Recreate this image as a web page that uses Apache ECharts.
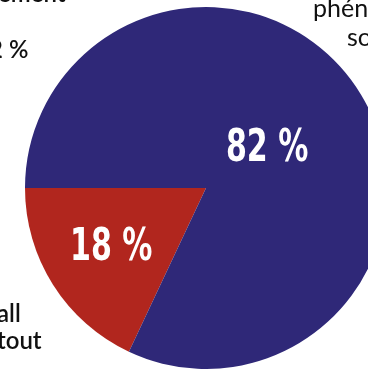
<!DOCTYPE html>
<html>
<head>
<meta charset="utf-8">
<script src="https://cdn.jsdelivr.net/npm/echarts@6/dist/echarts.min.js"></script>
<style>
  html, body { margin: 0; padding: 0; background: #ffffff; }
  #chart { width: 368px; height: 369px; }
</style>
</head>
<body>
<div id="chart"></div>
<script>
// Share of answers, in percent
const categories = ['tout', 'phénomène'];
const values = [18, 82];
const colors = ['#b1261e', '#2f2878'];
// How far out along each slice's bisector its value label sits (fraction of radius)
const labelRadius = [0.62, 0.40];

const CENTER = [206, 188];
const RADIUS = 181;
const START_ANGLE = 180;

const chart = echarts.init(document.getElementById('chart'), null, { renderer: 'canvas' });

const textFont = 'Lato, "Open Sans", sans-serif';
const numFont = 'bold 44px "DejaVu Sans Condensed", "DejaVu Sans", sans-serif';

// Value labels, condensed, placed on each slice's bisector
const total = values.reduce((a, b) => a + b, 0);
let acc = START_ANGLE;
const valueLabels = values.map((v, i) => {
  const mid = (acc + v / total * 180) * Math.PI / 180;
  acc += v / total * 360;
  const rr = RADIUS * labelRadius[i];
  return {
    type: 'text',
    x: CENTER[0] + rr * Math.cos(mid),
    y: CENTER[1] - rr * Math.sin(mid),
    scaleX: 0.76,
    z: 10,
    silent: true,
    style: {
      x: 0, y: 0,
      text: v + ' %',
      font: numFont,
      fill: '#ffffff',
      textAlign: 'center',
      textVerticalAlign: 'middle'
    }
  };
});

chart.setOption({
  animation: false,
  backgroundColor: '#ffffff',
  series: [{
    type: 'pie',
    center: CENTER,
    radius: [0, RADIUS],
    startAngle: START_ANGLE,
    clockwise: false,
    silent: true,
    data: categories.map((name, i) => ({
      name: name,
      value: values[i],
      itemStyle: { color: colors[i] }
    })),
    label: { show: false },
    labelLine: { show: false }
  }],
  graphic: valueLabels.concat([
    { type: 'text', left: -2, top: -18, style: { text: 'ement', font: '600 24px ' + textFont, fill: '#111111' } },
    { type: 'text', left: -11, top: 38, style: { text: '2 %', font: '600 24px ' + textFont, fill: '#111111' } },
    { type: 'text', left: 313, top: -4, style: { text: 'phén', font: '400 25px ' + textFont, fill: '#111111' } },
    { type: 'text', left: 347, top: 25, style: { text: 'so', font: '400 25px ' + textFont, fill: '#111111' } },
    { type: 'text', left: -3, top: 302, style: { text: 'all', font: '600 24px ' + textFont, fill: '#111111' } },
    { type: 'text', left: -3, top: 329, style: { text: 'tout', font: '600 24px ' + textFont, fill: '#111111' } }
  ])
});
</script>
</body>
</html>
